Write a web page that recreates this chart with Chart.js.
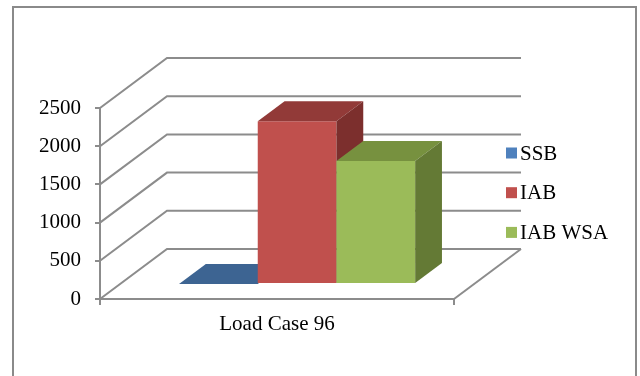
<!DOCTYPE html>
<html>
<head>
<meta charset="utf-8">
<script src="https://cdn.jsdelivr.net/npm/chart.js@4/dist/chart.umd.min.js"></script>
<style>
  html, body { margin: 0; padding: 0; background: #ffffff; }
  canvas { display: block; }
</style>
</head>
<body>
<canvas id="chart" width="640" height="376"></canvas>
<script>
// ---- data ----
const categories = ['Load Case 96'];
const seriesNames = ['SSB', 'IAB', 'IAB WSA'];
const ssbValues = [0];
const iabValues = [2130];
const iabWsaValues = [1610];
const yTickValues = [0, 500, 1000, 1500, 2000, 2500];

// ---- styling ----
const FONT = '"Liberation Serif", "Times New Roman", serif';
const GRID = '#8c8c8c';
const palette = [
  { front: '#4F81BD', top: '#3D6492', side: '#33577F', key: '#4F81BD' },
  { front: '#C0504D', top: '#923A38', side: '#7C2F2D', key: '#C0504D' },
  { front: '#9BBB59', top: '#77913F', side: '#647A35', key: '#9BBB59' }
];
// oblique depth of the floor / side wall, in pixels
const DEPTH_X = 67, DEPTH_Y = -50;
// bars occupy the middle slice of the floor depth
const BAR_FRONT = 0.3, BAR_BACK = 0.7;

const walls3d = {
  id: 'walls3d',
  beforeDraw(chart) {
    const ctx = chart.ctx;
    ctx.save();
    ctx.fillStyle = '#ffffff';
    ctx.fillRect(0, 0, chart.width, chart.height);
    ctx.strokeStyle = '#8a8a8a';
    ctx.lineWidth = 2;
    ctx.strokeRect(13, 7, 623, 370);
    ctx.restore();
  },
  beforeDatasetsDraw(chart) {
    const { ctx, chartArea: a, scales: { y } } = chart;
    ctx.save();
    ctx.strokeStyle = GRID;
    ctx.lineWidth = 2;
    ctx.lineJoin = 'miter';
    yTickValues.forEach(v => {
      const py = y.getPixelForValue(v);
      ctx.beginPath();
      ctx.moveTo(a.left, py);
      ctx.lineTo(a.left + DEPTH_X, py + DEPTH_Y);
      ctx.lineTo(a.right + DEPTH_X, py + DEPTH_Y);
      ctx.stroke();
    });
    // right edge of the floor
    ctx.beginPath();
    ctx.moveTo(a.right, a.bottom);
    ctx.lineTo(a.right + DEPTH_X, a.bottom + DEPTH_Y);
    ctx.stroke();
    ctx.restore();
  },
  afterDatasetsDraw(chart) {
    const ctx = chart.ctx;
    const fx = DEPTH_X * BAR_FRONT, fy = DEPTH_Y * BAR_FRONT;
    const bx = DEPTH_X * (BAR_BACK - BAR_FRONT), by = DEPTH_Y * (BAR_BACK - BAR_FRONT);
    ctx.save();
    chart.data.datasets.forEach((ds, i) => {
      const meta = chart.getDatasetMeta(i);
      const col = palette[i];
      meta.data.forEach(el => {
        const p = el.getProps(['x', 'y', 'base', 'width'], true);
        const l = p.x - p.width / 2 + fx;
        const r = p.x + p.width / 2 + fx;
        const t = p.y + fy;
        const b = p.base + fy;
        // front face
        ctx.fillStyle = col.front;
        ctx.fillRect(l, t, r - l, b - t);
        // top face
        ctx.fillStyle = col.top;
        ctx.beginPath();
        ctx.moveTo(l, t);
        ctx.lineTo(l + bx, t + by);
        ctx.lineTo(r + bx, t + by);
        ctx.lineTo(r, t);
        ctx.closePath();
        ctx.fill();
        // right side face
        ctx.fillStyle = col.side;
        ctx.beginPath();
        ctx.moveTo(r, t);
        ctx.lineTo(r + bx, t + by);
        ctx.lineTo(r + bx, b + by);
        ctx.lineTo(r, b);
        ctx.closePath();
        ctx.fill();
      });
    });
    ctx.restore();
  },
  afterDraw(chart) {
    // legend on the right
    const ctx = chart.ctx;
    ctx.save();
    ctx.font = '21px ' + FONT;
    ctx.textBaseline = 'middle';
    ctx.textAlign = 'left';
    chart.data.datasets.forEach((ds, i) => {
      const cy = 153 + i * 39.7;
      ctx.fillStyle = palette[i].key;
      ctx.fillRect(506, cy - 5.5, 11, 11);
      ctx.fillStyle = '#000000';
      ctx.fillText(ds.label, 520, cy + 1);
    });
    ctx.restore();
  }
};

new Chart(document.getElementById('chart'), {
  type: 'bar',
  data: {
    labels: categories,
    datasets: [
      { label: seriesNames[0], data: ssbValues },
      { label: seriesNames[1], data: iabValues },
      { label: seriesNames[2], data: iabWsaValues }
    ].map(d => Object.assign(d, { backgroundColor: 'rgba(0,0,0,0)', borderWidth: 0 }))
  },
  options: {
    responsive: false,
    devicePixelRatio: 1,
    animation: false,
    categoryPercentage: 0.667,
    barPercentage: 1,
    layout: { padding: { left: 0, top: 108, right: 186, bottom: 0 } },
    plugins: { legend: { display: false }, tooltip: { enabled: false } },
    scales: {
      x: {
        afterFit(s) { s.height = 77; },
        grid: { drawOnChartArea: false, tickLength: 6, color: GRID, lineWidth: 2, offset: true },
        border: { display: true, color: GRID, width: 2 },
        ticks: { color: '#000000', font: { family: FONT, size: 21 }, padding: 7 }
      },
      y: {
        min: 0,
        max: 2500,
        afterFit(s) { s.width = 100; },
        afterBuildTicks(s) { s.ticks = yTickValues.map(v => ({ value: v })); },
        grid: { drawOnChartArea: false, tickLength: 5, color: GRID, lineWidth: 2 },
        border: { display: true, color: GRID, width: 2 },
        ticks: {
          color: '#000000',
          font: { family: FONT, size: 21 },
          padding: 14,
          callback: v => String(v)
        }
      }
    }
  },
  plugins: [walls3d]
});
</script>
</body>
</html>
